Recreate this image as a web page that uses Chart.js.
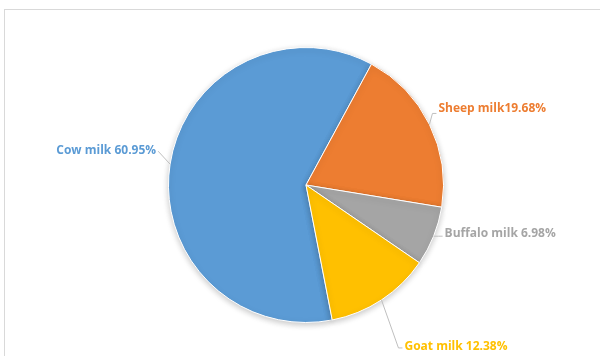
<!DOCTYPE html>
<html>
<head>
<meta charset="utf-8">
<script src="https://cdn.jsdelivr.net/npm/chart.js@4"></script>
<style>
  body { margin: 0; background: #fff; }
  #wrap { position: relative; width: 600px; height: 356px; overflow: hidden; }
  #frame { position: absolute; left: 4px; top: 9px; width: 620px; height: 400px; border: 1px solid #d9d9d9; }
  canvas { position: absolute; left: 0; top: 0; }
</style>
</head>
<body>
<div id="wrap">
  <div id="frame"></div>
  <canvas id="pieChart" width="600" height="356"></canvas>
</div>
<script>
document.addEventListener("DOMContentLoaded", function () {
  const ctx = document.getElementById("pieChart").getContext("2d");

  // data
  const categories = ["Cow milk", "Sheep milk", "Buffalo milk", "Goat milk"];
  const shares = [60.95, 19.68, 6.98, 12.38];
  const shareLabels = ["60.95%", "19.68%", "6.98%", "12.38%"];
  const separators = [" ", "", " ", " "];

  const colors = ["#5B9BD5", "#ED7D31", "#A5A5A5", "#FFC000"];

  // label placement relative to the outer edge point of each slice
  // [textDx, textDy, align, elbowDx, elbowDy, leaderDy]
  const labelPlace = [
    [-14, -14, "right", -12, -13, 1],
    [9, -16, "left", 3, -11, 5],
    [11, -3, "left", 5, 0, 3],
    [23, 47, "left", 17, 48, 1],
  ];

  const outsideLabels = {
    id: "outsideLabels",
    afterDatasetsDraw(chart) {
      const c = chart.ctx;
      const arcs = chart.getDatasetMeta(0).data;
      c.save();
      c.font = "bold 12px 'Open Sans'";
      c.textBaseline = "middle";
      arcs.forEach(function (arc, i) {
        const mid = (arc.startAngle + arc.endAngle) / 2;
        const ex = arc.x + Math.cos(mid) * arc.outerRadius;
        const ey = arc.y + Math.sin(mid) * arc.outerRadius;
        const p = labelPlace[i];
        const tx = ex + p[0];
        const ty = ey + p[1];
        const dir = p[2] === "left" ? 1 : -1;
        // leader line
        c.strokeStyle = "#bfbfbf";
        c.lineWidth = 1;
        c.beginPath();
        c.moveTo(ex, ey);
        c.lineTo(ex + p[3], ey + p[4]);
        c.lineTo(tx - 2 * dir, ty + p[5]);
        c.stroke();
        // label text
        c.fillStyle = colors[i];
        c.textAlign = p[2];
        c.fillText(categories[i] + separators[i] + shareLabels[i], tx, ty);
      });
      c.restore();
    },
  };

  const pieShadow = {
    id: "pieShadow",
    beforeDatasetsDraw(chart) {
      chart.ctx.save();
      chart.ctx.shadowColor = "rgba(0, 0, 0, 0.22)";
      chart.ctx.shadowBlur = 6;
      chart.ctx.shadowOffsetY = 2;
    },
    afterDatasetsDraw(chart) {
      chart.ctx.restore();
    },
  };

  new Chart(ctx, {
    type: "pie",
    data: {
      labels: categories,
      datasets: [
        {
          data: shares,
          backgroundColor: colors,
          borderColor: "#ffffff",
          borderWidth: 1,
        },
      ],
    },
    options: {
      responsive: false,
      animation: false,
      rotation: 169,
      layout: {
        padding: { top: 47, bottom: 33, left: 168, right: 156 },
      },
      plugins: {
        legend: { display: false },
        tooltip: { enabled: false },
      },
    },
    plugins: [pieShadow, outsideLabels],
  });
});
</script>
</body>
</html>
